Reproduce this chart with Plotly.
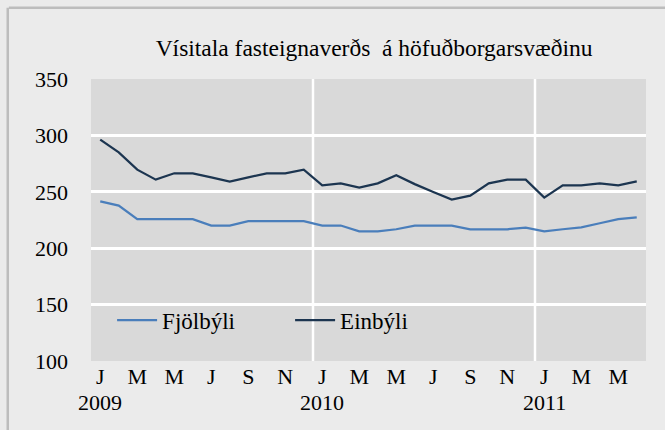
import plotly.graph_objects as go

# monthly index, jan 2009 - jun 2011
months = ['J', 'F', 'M', 'A', 'M', 'J', 'J', 'A', 'S', 'O', 'N', 'D'] * 2 + ['J', 'F', 'M', 'A', 'M', 'J']
years = ['2009', '2010', '2011']

fjolbyli = [241.6, 237.8, 225.7, 225.7, 225.7, 225.7, 220.1, 220.1, 223.9, 223.9, 223.9, 223.9,
            220.1, 220.1, 215.0, 215.0, 216.8, 220.1, 220.1, 220.1, 216.8, 216.8, 216.8, 218.3,
            215.0, 216.8, 218.5, 222.1, 225.7, 227.4]
einbyli = [296.2, 285.0, 269.6, 260.8, 266.4, 266.4, 262.8, 259.0, 262.8, 266.4, 266.4, 269.6,
           255.8, 257.5, 253.7, 257.5, 264.6, 256.8, 249.8, 243.1, 246.6, 257.5, 260.8, 260.8,
           244.8, 255.8, 255.8, 257.5, 255.8, 259.3]

x = list(range(len(months)))

# tick labels every other month
tickvals = x[::2]
ticktext = [months[i] for i in tickvals]

serif = 'Liberation Serif'

fig = go.Figure()
fig.add_scatter(name='Fjölbýli', x=x, y=fjolbyli, mode='lines',
                line=dict(color='#4a7ebb', width=2.25))
fig.add_scatter(name='Einbýli', x=x, y=einbyli, mode='lines',
                line=dict(color='#1c3550', width=2.25))

# white lines at year boundaries + year labels under januaries
for k, yr in enumerate(years):
    j = k * 12
    if j > 0:
        fig.add_shape(type='line', xref='x', yref='paper', x0=j - 0.5, x1=j - 0.5, y0=0, y1=1,
                      line=dict(color='white', width=2.5), layer='below')
    fig.add_annotation(x=j, y=-0.095, xref='x', yref='paper', text=yr, showarrow=False,
                       xanchor='center', yanchor='top', font=dict(size=22, family=serif))

# frame lines top / left
fig.add_shape(type='line', xref='paper', yref='paper', x0=-0.148, x1=1.04, y0=1.253, y1=1.253,
              line=dict(color='#bdbdbd', width=2.5))
fig.add_shape(type='line', xref='paper', yref='paper', x0=-0.15, x1=-0.15, y0=1.253, y1=-0.3,
              line=dict(color='#bdbdbd', width=2.5))

fig.update_layout(
    width=665, height=430,
    margin=dict(l=91, r=19, t=79, b=69),
    paper_bgcolor='#ebebeb', plot_bgcolor='#d9d9d9',
    font=dict(family=serif, size=22, color='black'),
    title=dict(text='Vísitala fasteignaverðs  á höfuðborgarsvæðinu', xref='paper', x=0.51,
               xanchor='center', y=0.89, yanchor='middle', font=dict(size=23.5, family=serif)),
    showlegend=True,
    legend=dict(orientation='h', x=0.038, y=0.145, xanchor='left', yanchor='middle',
                bgcolor='rgba(0,0,0,0)', font=dict(size=23, family=serif), itemwidth=40,
                entrywidth=123, tracegroupgap=0),
)
fig.update_xaxes(range=[-0.5, len(x) - 0.5], tickmode='array', tickvals=tickvals, ticktext=ticktext,
                 showgrid=False, zeroline=False, showline=False, ticks='', ticklabelstandoff=0)
fig.update_yaxes(range=[100, 350], dtick=50, showgrid=True, gridcolor='white', gridwidth=2.5,
                 zeroline=False, showline=False, ticks='', ticklabelstandoff=22)

fig.write_html('out.html', config={'displayModeBar': False},
               post_script="document.body.style.margin='0';")
